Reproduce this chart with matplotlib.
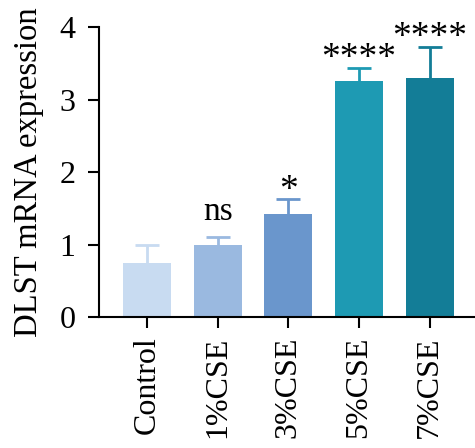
import matplotlib.pyplot as plt
import numpy as np

groups = ["Control", "1%CSE", "3%CSE", "5%CSE", "7%CSE"]
means = [0.75, 1.00, 1.42, 3.26, 3.30]
errs = [0.25, 0.11, 0.21, 0.18, 0.43]
signif = ["", "ns", "*", "****", "****"]
colors = ["#c8dbf1", "#9ab9e0", "#6a96cc", "#1e9ab3", "#137d97"]

plt.rcParams.update({
    "font.family": ["Liberation Serif", "DejaVu Serif"],
    "font.size": 23,
})

fig = plt.figure(figsize=(4.75, 4.48), dpi=100)
ax = fig.add_axes([99 / 475, 1 - 317 / 448, 376 / 475, 290 / 448])

x = np.arange(len(groups))
ax.bar(x, means, width=0.68, color=colors, zorder=2)
for xi, m, e, c in zip(x, means, errs, colors):
    _, caps, _ = ax.errorbar(xi, m, yerr=[[0], [e]], color=c, lw=2,
                             capsize=8.3, capthick=2, zorder=1)
    # only the upper cap is wanted
    for cap in caps:
        if np.isclose(cap.get_ydata()[0], m):
            cap.set_visible(False)

for xi, m, e, s in zip(x, means, errs, signif):
    if not s:
        continue
    if s == "ns":
        ax.annotate(s, (xi, m + e), xytext=(0, 12), textcoords="offset points",
                    ha="center", va="baseline", fontsize=24)
    else:
        ax.annotate(s, (xi, m + e), xytext=(0, -0.5), textcoords="offset points",
                    ha="center", va="baseline", fontsize=27)

ax.set_xlim(-0.68, 4.64)
ax.set_ylim(0, 4)
ax.set_yticks([0, 1, 2, 3, 4])
ax.set_xticks(x)
ax.set_xticklabels(groups, rotation=90, fontsize=23)
ax.set_yticklabels(["0", "1", "2", "3", "4"], fontsize=23)
ax.set_ylabel("DLST mRNA expression", fontsize=23.5, labelpad=11)

for side in ("top", "right"):
    ax.spines[side].set_visible(False)
for side in ("left", "bottom"):
    ax.spines[side].set_linewidth(1.5)
ax.tick_params(axis="both", width=1.5, length=8, color="black")
ax.tick_params(axis="y", pad=9)
ax.tick_params(axis="x", pad=6)

fig.savefig("out.png", dpi=100)
